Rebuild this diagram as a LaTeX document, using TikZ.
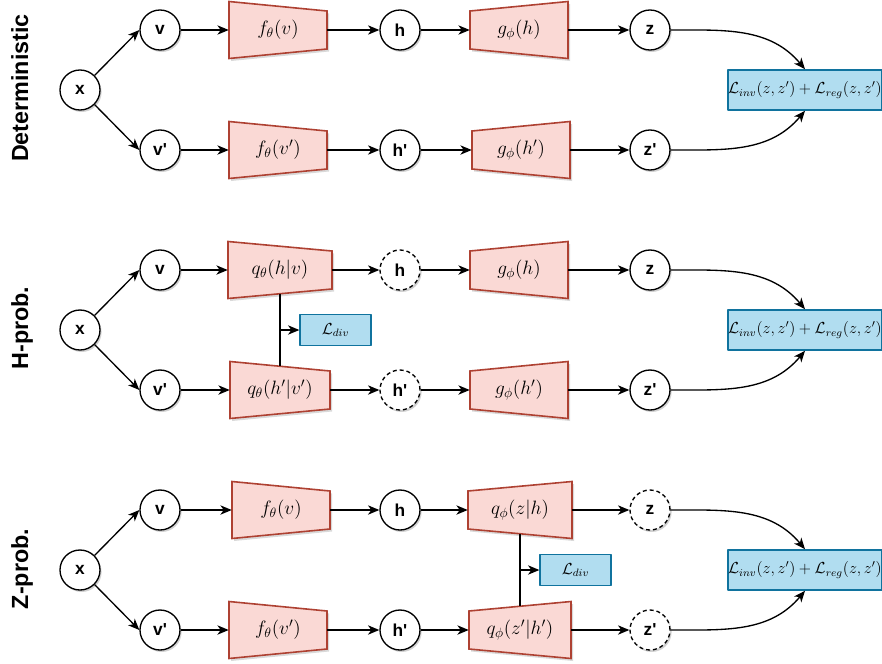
\RequirePackage{fix-cm}
\documentclass[tikz,border=0pt]{standalone}
\usepackage{amsmath,amssymb}
\usepackage{fontspec}
\newfontfamily\lblfont{Liberation Sans}
\usepackage{xcolor}
\usepackage{tikz}
\usetikzlibrary{positioning,calc,arrows.meta,shadows,backgrounds}

\definecolor{trapfill}{HTML}{FAD9D5}
\definecolor{trapline}{HTML}{AE4132}
\definecolor{lossfill}{HTML}{B1DDF0}
\definecolor{lossline}{HTML}{10739E}

% encoder block: wide side on the left
\newcommand{\encnode}[5]{%
  \begin{scope}[on background layer]
    \fill[trapshadow] ({#2-#4},{#3+28.5}) -- ({#2+#4},{#3+19}) -- ({#2+#4},{#3-19}) -- ({#2-#4},{#3-28.5}) -- cycle;
    \filldraw[trapbox] ({#2-#4},{#3+28.5}) -- ({#2+#4},{#3+19}) -- ({#2+#4},{#3-19}) -- ({#2-#4},{#3-28.5}) -- cycle;
  \end{scope}
  \node[trapnode, minimum width={1.5pt*#4}] (#1) at (#2,#3) {#5};
  \coordinate (#1-top) at (#2,{#3+23.75});
  \coordinate (#1-bot) at (#2,{#3-23.75});
}
% decoder block: wide side on the right
\newcommand{\decnode}[5]{%
  \begin{scope}[on background layer]
    \fill[trapshadow] ({#2-#4},{#3+19}) -- ({#2+#4},{#3+28.5}) -- ({#2+#4},{#3-28.5}) -- ({#2-#4},{#3-19}) -- cycle;
    \filldraw[trapbox] ({#2-#4},{#3+19}) -- ({#2+#4},{#3+28.5}) -- ({#2+#4},{#3-28.5}) -- ({#2-#4},{#3-19}) -- cycle;
  \end{scope}
  \node[trapnode, minimum width={1.5pt*#4}] (#1) at (#2,#3) {#5};
  \coordinate (#1-top) at (#2,{#3+23.75});
  \coordinate (#1-bot) at (#2,{#3-23.75});
}

\begin{document}
\begin{tikzpicture}[x=0.75pt, y=0.75pt, >={Stealth[length=8.5pt,width=7pt,inset=2.5pt]}, line join=round,
    dot/.style={circle, draw, line width=1pt, fill=white, minimum size=30pt, inner sep=0pt,
      font=\lblfont\bfseries\fontsize{13}{15}\selectfont,
      drop shadow={shadow xshift=1.2pt, shadow yshift=-1.5pt, fill=black, opacity=0.18}},
    latent/.style={dot, dash pattern=on 3pt off 2.2pt},
    trapbox/.style={fill=trapfill, draw=trapline, line width=1.2pt},
    trapshadow/.style={fill=black, opacity=0.15, shift={(2,-2.5)}},
    trapnode/.style={minimum height=42.75pt, inner sep=0pt, font=\fontsize{14.5}{16}\selectfont},
    lossbox/.style={draw=lossline, fill=lossfill, line width=1.2pt, minimum width=114pt, minimum height=30pt,
      inner sep=0pt, font=\fontsize{12}{14}\selectfont},
    divbox/.style={lossbox, minimum width=53pt, minimum height=23pt},
    rowlabel/.style={rotate=90, anchor=base, font=\lblfont\bfseries\fontsize{17.5}{20}\selectfont},
    link/.style={->, line width=1pt}]
  \useasboundingbox (0,0) rectangle (882,-664);

  % Deterministic
  \node[rowlabel] (taga) at (28,-88) {Deterministic};
  \node[dot] (xa) at (80,-90) {x};
  \node[dot] (va) at (160,-30) {v};
  \node[dot] (vpa) at (160,-150) {v'};
  \encnode{fa}{278}{-30}{49}{$f_\theta(v)$}
  \encnode{fpa}{278}{-150}{49}{$f_\theta(v')$}
  \node[dot] (ha) at (400,-30) {h};
  \node[dot] (hpa) at (400,-150) {h'};
  \decnode{ga}{519}{-30}{49}{$g_\phi(h)$}
  \decnode{gpa}{521}{-150}{49}{$g_\phi(h')$}
  \node[dot] (za) at (650,-30) {z};
  \node[dot] (zpa) at (650,-150) {z'};
  \node[lossbox] (lossa) at (805,-90) {$\mathcal{L}_{inv}(z,z')+\mathcal{L}_{reg}(z,z')$};

  \draw[link] (xa.north east) -- (va.west);
  \draw[link] (xa.south east) -- (vpa.west);
  \draw[link] (va.east) -- (fa.west);
  \draw[link] (vpa.east) -- (fpa.west);
  \draw[link] (fa.east) -- (ha.west);
  \draw[link] (fpa.east) -- (hpa.west);
  \draw[link] (ha.east) -- (ga.west);
  \draw[link] (hpa.east) -- (gpa.west);
  \draw[link] (ga.east) -- (za.west);
  \draw[link] (gpa.east) -- (zpa.west);
  \draw[link] (za.east) to[out=0, in=130] (lossa.north);
  \draw[link] (zpa.east) to[out=0, in=-130] (lossa.south);

  % H-prob.
  \node[rowlabel] (tagb) at (28,-328) {H-prob.};
  \node[dot] (xb) at (80,-330) {x};
  \node[dot] (vb) at (160,-270) {v};
  \node[dot] (vpb) at (160,-390) {v'};
  \encnode{qb}{280}{-270}{52}{$q_\theta(h|v)$}
  \encnode{qpb}{280}{-390}{50}{$q_\theta(h'|v')$}
  \node[latent] (hb) at (400,-270) {h};
  \node[latent] (hpb) at (400,-390) {h'};
  \decnode{gb}{519}{-270}{49}{$g_\phi(h)$}
  \decnode{gpb}{519}{-390}{49}{$g_\phi(h')$}
  \node[dot] (zb) at (650,-270) {z};
  \node[dot] (zpb) at (650,-390) {z'};
  \node[divbox] (divb) at (335.5,-330) {$\mathcal{L}_{div}$};
  \node[lossbox] (lossb) at (805,-330) {$\mathcal{L}_{inv}(z,z')+\mathcal{L}_{reg}(z,z')$};

  \draw[link] (xb.north east) -- (vb.west);
  \draw[link] (xb.south east) -- (vpb.west);
  \draw[link] (vb.east) -- (qb.west);
  \draw[link] (vpb.east) -- (qpb.west);
  \draw[link] (qb.east) -- (hb.west);
  \draw[link] (qpb.east) -- (hpb.west);
  \draw[link] (hb.east) -- (gb.west);
  \draw[link] (hpb.east) -- (gpb.west);
  \draw[link] (gb.east) -- (zb.west);
  \draw[link] (gpb.east) -- (zpb.west);
  \draw[line width=1pt] (qb-bot) -- (qpb-top);
  \draw[link] (qb-bot |- divb.west) -- (divb.west);
  \draw[link] (zb.east) to[out=0, in=130] (lossb.north);
  \draw[link] (zpb.east) to[out=0, in=-130] (lossb.south);

  % Z-prob.
  \node[rowlabel] (tagc) at (28,-569) {Z-prob.};
  \node[dot] (xc) at (80,-570) {x};
  \node[dot] (vc) at (160,-510) {v};
  \node[dot] (vpc) at (160,-630) {v'};
  \encnode{fc}{281}{-510}{49}{$f_\theta(v)$}
  \encnode{fpc}{278}{-630}{49}{$f_\theta(v')$}
  \node[dot] (hc) at (400,-510) {h};
  \node[dot] (hpc) at (400,-630) {h'};
  \decnode{qc}{520}{-510}{52}{$q_\phi(z|h)$}
  \decnode{qpc}{520}{-630}{51}{$q_\phi(z'|h')$}
  \node[latent] (zc) at (650,-510) {z};
  \node[latent] (zpc) at (650,-630) {z'};
  \node[divbox] (divc) at (575.5,-570) {$\mathcal{L}_{div}$};
  \node[lossbox] (lossc) at (805,-570) {$\mathcal{L}_{inv}(z,z')+\mathcal{L}_{reg}(z,z')$};

  \draw[link] (xc.north east) -- (vc.west);
  \draw[link] (xc.south east) -- (vpc.west);
  \draw[link] (vc.east) -- (fc.west);
  \draw[link] (vpc.east) -- (fpc.west);
  \draw[link] (fc.east) -- (hc.west);
  \draw[link] (fpc.east) -- (hpc.west);
  \draw[link] (hc.east) -- (qc.west);
  \draw[link] (hpc.east) -- (qpc.west);
  \draw[link] (qc.east) -- (zc.west);
  \draw[link] (qpc.east) -- (zpc.west);
  \draw[line width=1pt] (qc-bot) -- (qpc-top);
  \draw[link] (qc-bot |- divc.west) -- (divc.west);
  \draw[link] (zc.east) to[out=0, in=130] (lossc.north);
  \draw[link] (zpc.east) to[out=0, in=-130] (lossc.south);
\end{tikzpicture}
\end{document}
